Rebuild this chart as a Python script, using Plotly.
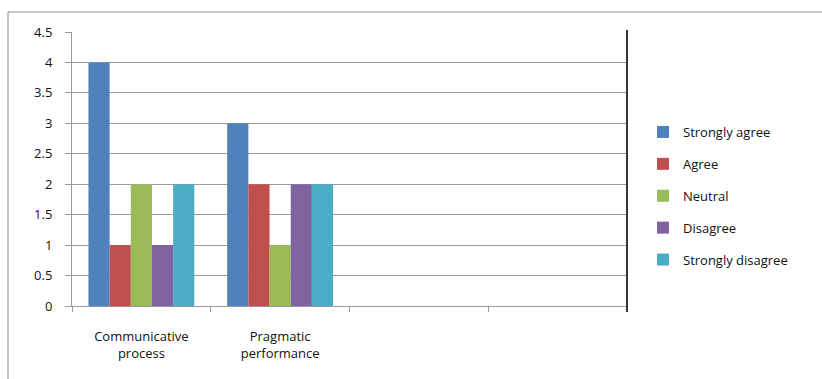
import plotly.graph_objects as go

# Survey responses per topic
categories = ["Communicative<br>process", "Pragmatic<br>performance", " ", "  "]
series_names = ["Strongly agree", "Agree", "Neutral", "Disagree", "Strongly disagree"]
series_values = [
    [4, 3],
    [1, 2],
    [2, 1],
    [1, 2],
    [2, 2],
]
series_colors = ["#4F81BD", "#C0504D", "#9BBB59", "#8064A2", "#4BACC6"]
y_ticks = [0, 0.5, 1, 1.5, 2, 2.5, 3, 3.5, 4, 4.5]

W, H = 822, 379
L, R, T, B = 72, 195, 32, 73
plot_w = W - L - R
plot_h = H - T - B

fig = go.Figure()
for i, (name, vals, col) in enumerate(zip(series_names, series_values, series_colors)):
    fig.add_trace(go.Bar(
        x=categories[:len(vals)], y=vals, name=name,
        marker=dict(color=col, line=dict(width=0)),
        legendgroup=f"g{i}",
    ))

family = "Open Sans, DejaVu Sans, sans-serif"
text_color = "#111111"
font = dict(family=family, size=13, color=text_color)
grid = "#9a9a9a"

fig.update_layout(
    width=W, height=H,
    margin=dict(l=L, r=R, t=T, b=B),
    paper_bgcolor="white", plot_bgcolor="white",
    font=font,
    barmode="group", bargap=0.237, bargroupgap=0,
    showlegend=True,
    legend=dict(
        x=(643 - L) / plot_w, xanchor="left",
        y=(306 - 117) / plot_h, yanchor="top",
        font=dict(family=family, size=13, color=text_color),
        tracegroupgap=12, itemwidth=30,
        bgcolor="rgba(0,0,0,0)",
    ),
    xaxis=dict(
        type="category", categoryorder="array", categoryarray=categories,
        range=[-0.5, len(categories) - 0.5],
        tickson="boundaries", ticks="outside", ticklen=5, tickcolor=grid,
        showline=True, linecolor=grid, linewidth=1,
        showgrid=False, zeroline=False,
        ticklabelstandoff=18,
        tickfont=dict(family=family, size=13, color=text_color),
    ),
    yaxis=dict(
        range=[0, 4.5], tickvals=y_ticks, ticktext=[f"{v:g}" for v in y_ticks],
        ticks="outside", ticklen=6, tickcolor=grid,
        showline=True, linecolor=grid, linewidth=1,
        showgrid=True, gridcolor=grid, gridwidth=1,
        zeroline=False, ticklabelstandoff=10,
        tickfont=dict(family=family, size=13, color=text_color),
    ),
    shapes=[
        # frame around the chart
        dict(type="rect", xref="paper", yref="paper",
             x0=(8 - L) / plot_w, x1=1.6, y0=-0.6, y1=(306 - 12) / plot_h,
             line=dict(color="#8c8c8c", width=1), fillcolor="rgba(0,0,0,0)", layer="below"),
        # dark right edge of the plot area
        dict(type="line", xref="paper", yref="paper",
             x0=1, x1=1, y0=-6 / plot_h, y1=1 + 2 / plot_h,
             line=dict(color="#333333", width=2)),
    ],
)

fig.write_html("out.html")
